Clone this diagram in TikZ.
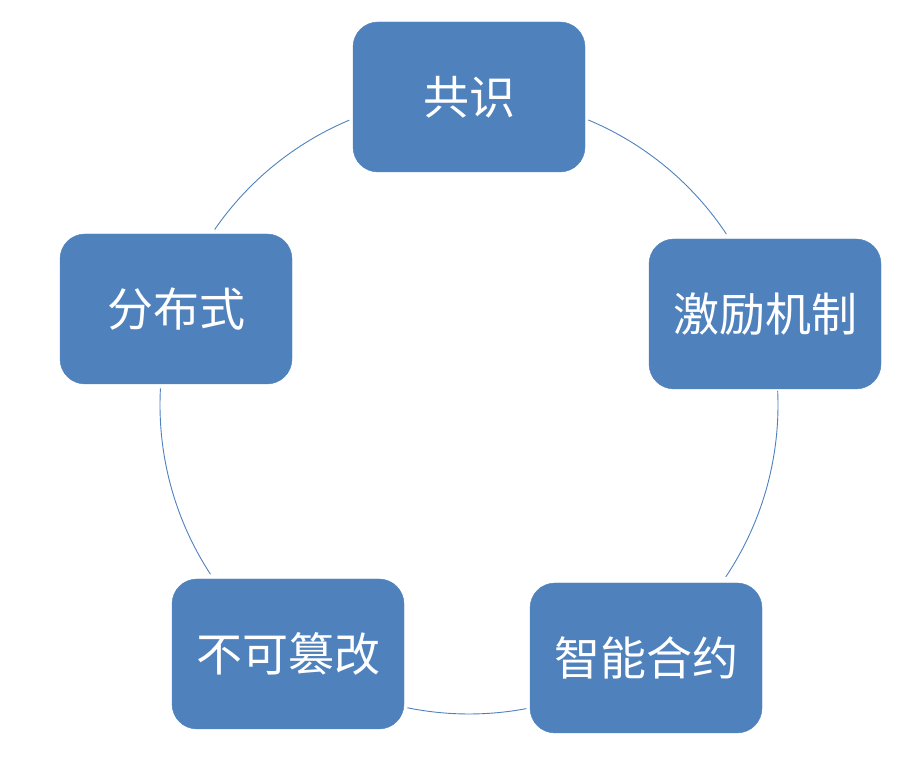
\documentclass[tikz,border=0pt]{standalone}
\usepackage{fontspec}
\newfontfamily\cjk{Noto Sans CJK SC}
\definecolor{boxblue}{HTML}{4F81BD}
\begin{document}
\begin{tikzpicture}[x=1pt,y=1pt,
  stagebox/.style={draw=boxblue, fill=boxblue, rounded corners=25pt,
    minimum width=232pt, minimum height=150pt, inner sep=0pt,
    text=white, font=\cjk\fontsize{46}{50}\selectfont},
  ring/.style={draw=boxblue, line width=0.9pt}]
\useasboundingbox (0,0) rectangle (908,774);
\coordinate (C) at (469,369);
\node[stagebox] (gs) at (469,677) {共识};
\node[stagebox] (jl) at (765,460) {激励机制};
\node[stagebox] (zn) at (646,116) {智能合约};
\node[stagebox] (bk) at (288,120) {不可篡改};
\node[stagebox] (fb) at (176,465) {分布式};
\def\R{309}
\draw[ring] ([shift={(67.3:\R)}]C) arc[start angle=67.3, end angle=33.6, radius=\R];
\draw[ring] ([shift={(112.8:\R)}]C) arc[start angle=112.8, end angle=145.4, radius=\R];
\draw[ring] ([shift={(176.9:\R)}]C) arc[start angle=176.9, end angle=213.2, radius=\R];
\draw[ring] ([shift={(258.5:\R)}]C) arc[start angle=258.5, end angle=280.7, radius=\R];
\draw[ring] ([shift={(326.2:\R)}]C) arc[start angle=326.2, end angle=362.6, radius=\R];
\end{tikzpicture}
\end{document}
